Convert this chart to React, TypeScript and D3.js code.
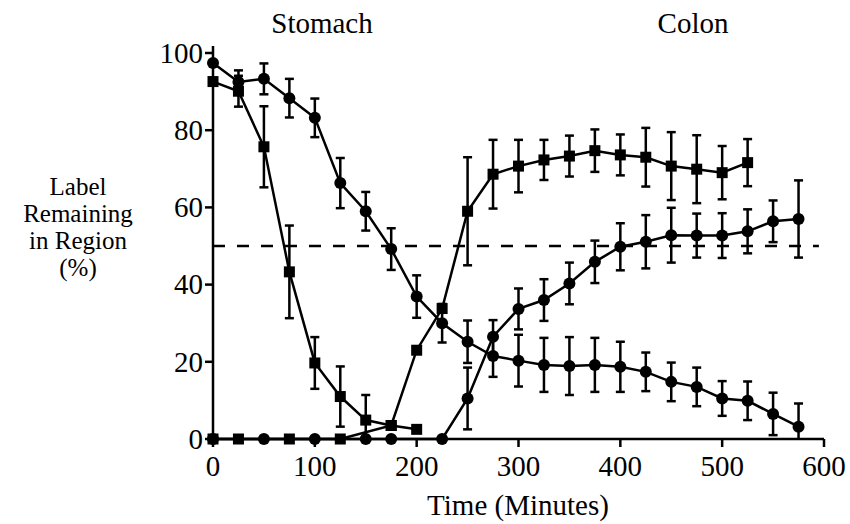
import React, { useRef, useEffect } from "react"
import * as d3 from "d3"

// time points (minutes) and % label remaining
const timesStomachSlow = [0, 25, 50, 75, 100, 125, 150, 175, 200, 225, 250, 275, 300, 325, 350, 375, 400, 425, 450, 475, 500, 525, 550, 575]
const stomachSlow = [97.4, 92.5, 93.3, 88.3, 83.2, 66.3, 59, 49.2, 36.9, 30, 25.2, 21.5, 20.3, 19.2, 18.9, 19.2, 18.7, 17.4, 14.8, 13.5, 10.5, 9.9, 6.5, 3.2]
const stomachSlowErr = [0, 3, 4, 5, 5, 6.5, 5, 5.4, 5.5, 5, 5.5, 5.4, 6.7, 7, 7.5, 7, 6.5, 5, 5, 5, 4.5, 5, 5.5, 6]

const timesStomachFast = [0, 25, 50, 75, 100, 125, 150, 175, 200]
const stomachFast = [92.6, 90.1, 75.7, 43.3, 19.7, 11, 4.9, 3.5, 2.5]
const stomachFastErr = [0, 4, 10.5, 12, 6.7, 7.8, 6.5, 0, 0]

const timesColonFast = [0, 25, 75, 125, 175, 200, 225, 250, 275, 300, 325, 350, 375, 400, 425, 450, 475, 500, 525]
const colonFast = [0, 0, 0, 0, 3.5, 23, 33.8, 59, 68.6, 70.7, 72.3, 73.3, 74.7, 73.6, 73, 70.7, 69.9, 69, 71.6]
const colonFastErr = [0, 0, 0, 0, 0, 0, 0, 14, 8.9, 6.8, 5.2, 5.3, 5.5, 5.3, 7.6, 8.8, 8.8, 6.9, 6.1]

const timesColonSlow = [0, 50, 100, 150, 175, 225, 250, 275, 300, 325, 350, 375, 400, 425, 450, 475, 500, 525, 550, 575]
const colonSlow = [0, 0, 0, 0, 0, 0, 10.5, 26.5, 33.7, 36, 40.3, 45.9, 49.8, 51.1, 52.8, 52.7, 52.7, 53.8, 56.4, 57]
const colonSlowErr = [0, 0, 0, 0, 0, 0, 8, 4.3, 5.3, 5.4, 5.4, 5.5, 6.1, 6.9, 7.1, 5.7, 5.8, 5.7, 5.4, 10]

const xTicks = [0, 100, 200, 300, 400, 500, 600]
const yTicks = [0, 20, 40, 60, 80, 100]
const refLevel = 50
const yLabelLines = ["Label", "Remaining", "in Region", "(%)"]

const FONT = "Liberation Serif, DejaVu Serif, Times New Roman, serif"

export default function App() {
  const el = useRef(null)

  useEffect(function() {
    const w = 850
    const h = 524
    const svg = d3.select(el.current)
    svg.selectAll("*").remove()

    const x = d3.scaleLinear().domain([0, 600]).range([213, 824])
    const y = d3.scaleLinear().domain([0, 100]).range([439, 53])

    svg.append("rect").attr("width", w).attr("height", h).attr("fill", "#fff")

    // dashed 50% reference
    svg.append("line")
      .attr("x1", x(0)).attr("x2", x(595))
      .attr("y1", y(refLevel)).attr("y2", y(refLevel))
      .attr("stroke", "#000").attr("stroke-width", 2.5)
      .attr("stroke-dasharray", "12,12")

    const series = [
      { t: timesStomachSlow, v: stomachSlow, e: stomachSlowErr, shape: "circle" },
      { t: timesStomachFast, v: stomachFast, e: stomachFastErr, shape: "square" },
      { t: timesColonFast, v: colonFast, e: colonFastErr, shape: "square" },
      { t: timesColonSlow, v: colonSlow, e: colonSlowErr, shape: "circle" },
    ].map(s => ({ ...s, pts: s.t.map((t, i) => ({ t, v: s.v[i], e: s.e[i] })) }))

    const line = d3.line().x(d => x(d.t)).y(d => y(d.v))

    series.forEach(s => {
      svg.append("path")
        .attr("d", line(s.pts))
        .attr("fill", "none")
        .attr("stroke", "#000")
        .attr("stroke-width", 2.5)
    })

    // error bars
    series.forEach(s => {
      const g = svg.append("g").attr("stroke", "#000").attr("stroke-width", 2.5)
      s.pts.filter(d => d.e > 0).forEach(d => {
        const cx = x(d.t)
        const top = y(d.v + d.e)
        const bot = y(Math.max(d.v - d.e, 0))
        g.append("line").attr("x1", cx).attr("x2", cx).attr("y1", top).attr("y2", bot)
        g.append("line").attr("x1", cx - 4.5).attr("x2", cx + 4.5).attr("y1", top).attr("y2", top)
        if (d.v - d.e > 0) {
          g.append("line").attr("x1", cx - 4.5).attr("x2", cx + 4.5).attr("y1", bot).attr("y2", bot)
        }
      })
    })

    // markers
    series.forEach(s => {
      const g = svg.append("g").attr("fill", "#000")
      if (s.shape === "circle") {
        g.selectAll("circle").data(s.pts).enter().append("circle")
          .attr("cx", d => x(d.t)).attr("cy", d => y(d.v)).attr("r", 6)
      } else {
        g.selectAll("rect").data(s.pts).enter().append("rect")
          .attr("x", d => x(d.t) - 5.5).attr("y", d => y(d.v) - 5.5)
          .attr("width", 11).attr("height", 11)
      }
    })

    // axes
    const axes = svg.append("g").attr("stroke", "#000").attr("stroke-width", 2.5)
    axes.append("line").attr("x1", x(0)).attr("x2", x(0)).attr("y1", y(0)).attr("y2", y(100) - 7)
    axes.append("line").attr("x1", x(0)).attr("x2", x(600)).attr("y1", y(0)).attr("y2", y(0))
    yTicks.forEach(t => {
      axes.append("line").attr("x1", x(0) - 8).attr("x2", x(0)).attr("y1", y(t)).attr("y2", y(t))
    })
    xTicks.forEach(t => {
      axes.append("line").attr("x1", x(t)).attr("x2", x(t)).attr("y1", y(0)).attr("y2", y(0) + 8)
    })

    const txt = svg.append("g").style("font-family", FONT).attr("fill", "#000")
    yTicks.forEach(t => {
      txt.append("text").attr("x", x(0) - 10).attr("y", y(t)).attr("dy", "0.34em")
        .attr("text-anchor", "end").style("font-size", "29px").text(t)
    })
    xTicks.forEach(t => {
      txt.append("text").attr("x", x(t)).attr("y", 476)
        .attr("text-anchor", "middle").style("font-size", "29px").text(t)
    })
    txt.append("text").attr("x", 518).attr("y", 515).attr("text-anchor", "middle")
      .style("font-size", "29px").text("Time (Minutes)")
    txt.append("text").attr("x", 322).attr("y", 33).attr("text-anchor", "middle")
      .style("font-size", "29px").text("Stomach")
    txt.append("text").attr("x", 693).attr("y", 33).attr("text-anchor", "middle")
      .style("font-size", "29px").text("Colon")
    yLabelLines.forEach((s, i) => {
      txt.append("text").attr("x", 78).attr("y", 195 + i * 27).attr("text-anchor", "middle")
        .style("font-size", "25px").text(s)
    })
  }, [])

  return <svg ref={el} width={850} height={524}
    style={{ position: "absolute", left: 0, top: 0, display: "block" }} />
}
